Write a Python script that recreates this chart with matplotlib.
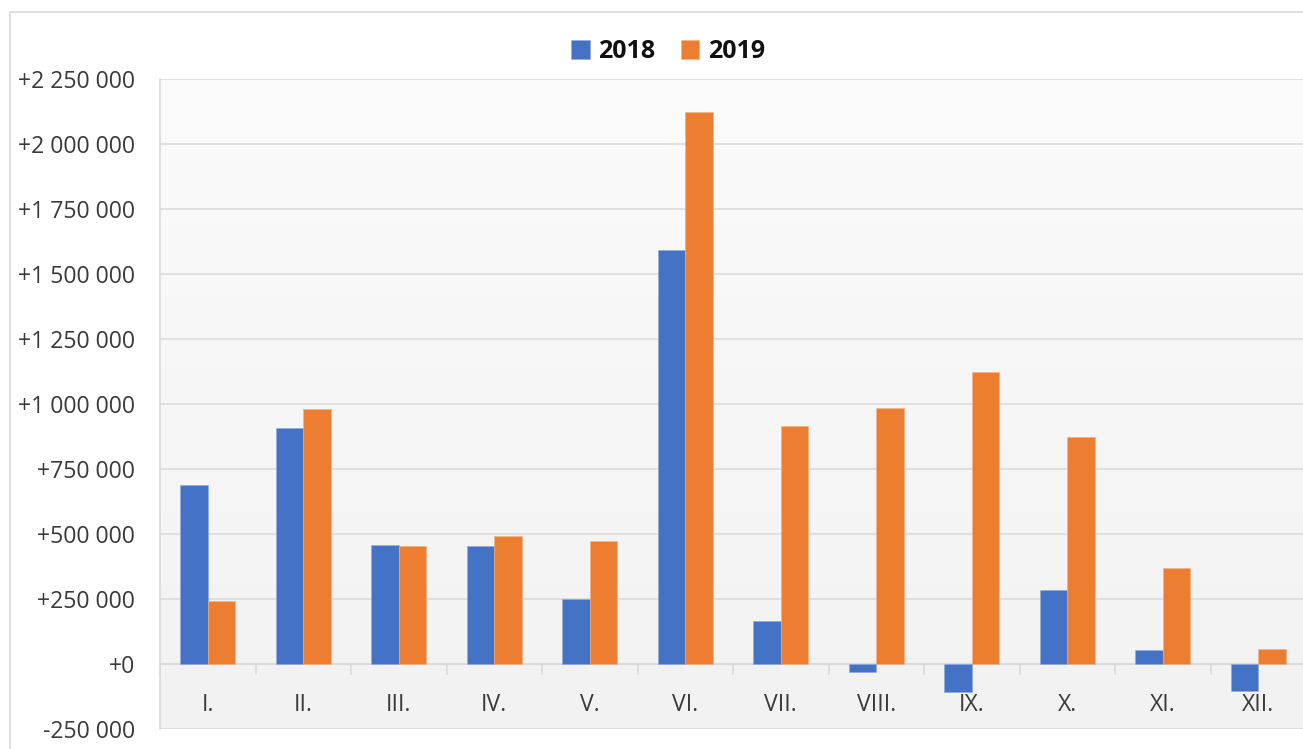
import matplotlib
matplotlib.use("Agg")
import matplotlib.pyplot as plt
import numpy as np
from matplotlib.patches import Rectangle
from matplotlib.font_manager import FontProperties

months = ["I.", "II.", "III.", "IV.", "V.", "VI.", "VII.", "VIII.", "IX.", "X.", "XI.", "XII."]
v2018 = [688000, 908000, 458000, 454000, 250000, 1592000, 165000, -31000, -108000, 285000, 54000, -104000]
v2019 = [242000, 981000, 454000, 492000, 473000, 2123000, 915000, 985000, 1123000, 873000, 369000, 58000]
yticks = [-250000, 0, 250000, 500000, 750000, 1000000, 1250000, 1500000, 1750000, 2000000, 2250000]
series_names = ["2018", "2019"]

FAM = ['Open Sans', 'DejaVu Sans']
plt.rcParams['font.family'] = FAM

W, H = 1303, 749
fig = plt.figure(figsize=(W/100, H/100), dpi=100)
fig.patch.set_facecolor('white')

# outer chart border
fig.patches.append(Rectangle((10/W, -0.01), 1.2, 1 - 12/H + 0.01, transform=fig.transFigure,
                             fill=False, edgecolor='#d9d9d9', linewidth=1.2, zorder=0))

ax = fig.add_axes([160/W, 1 - 729/H, 1146/W, (729-79)/H])
ax.set_xlim(-0.5, len(months) - 0.5)
ax.set_ylim(yticks[0], yticks[-1])

# gradient background
grad = np.linspace(0, 1, 256).reshape(-1, 1)
ax.imshow(grad, extent=[0, 1, 0, 1], transform=ax.transAxes, aspect='auto',
          cmap=matplotlib.colors.LinearSegmentedColormap.from_list('g', ['#f2f2f2', '#fbfbfb']),
          origin='lower', zorder=0)

x = np.arange(len(months))
bw = 0.29
ax.bar(x - bw/2, v2018, bw, color='#4472C4', label=series_names[0], zorder=3,
       edgecolor='#8faadc', linewidth=0.4)
ax.bar(x + bw/2, v2019, bw, color='#ED7D31', label=series_names[1], zorder=3,
       edgecolor='#f4b183', linewidth=0.4)

def fmt(v):
    if v == 0:
        return "+0"
    s = f"{abs(v):,}".replace(",", " ")
    return ("+" if v > 0 else "-") + s

ax.set_yticks(yticks)
ax.set_yticklabels([fmt(v) for v in yticks], fontsize=16.6, color='#3a3a3a', family=FAM)
ax.tick_params(axis='y', length=0, pad=18)
ax.grid(axis='y', color='#d9d9d9', linewidth=1.1, zorder=1)
ax.set_axisbelow(True)

for s in ['top', 'right']:
    ax.spines[s].set_visible(False)
ax.spines['left'].set_color('#d9d9d9')
ax.spines['left'].set_linewidth(1.1)
ax.spines['bottom'].set_position(('data', 0))
ax.spines['bottom'].set_color('#d9d9d9')
ax.spines['bottom'].set_linewidth(1.1)
ax.spines['bottom'].set_zorder(2)

ax.set_xticks(x)
ax.set_xticklabels(months, fontsize=16.6, color='#3a3a3a', family=FAM)
ax.tick_params(axis='x', which='major', length=0, pad=21)
ax.set_xticks(np.arange(-0.5, len(months)), minor=True)
ax.tick_params(axis='x', which='minor', length=8, color='#d9d9d9', width=1.1, direction='out')

leg = fig.legend(loc='center', bbox_to_anchor=(668/W, 1 - 52/H), ncol=2, frameon=False,
                 prop=FontProperties(family=FAM, weight='bold', size=18),
                 handlelength=0.75, handleheight=0.8,
                 handletextpad=0.35, columnspacing=1.0)
for t in leg.get_texts():
    t.set_color('#111111')

fig.savefig("out.png", dpi=100)
